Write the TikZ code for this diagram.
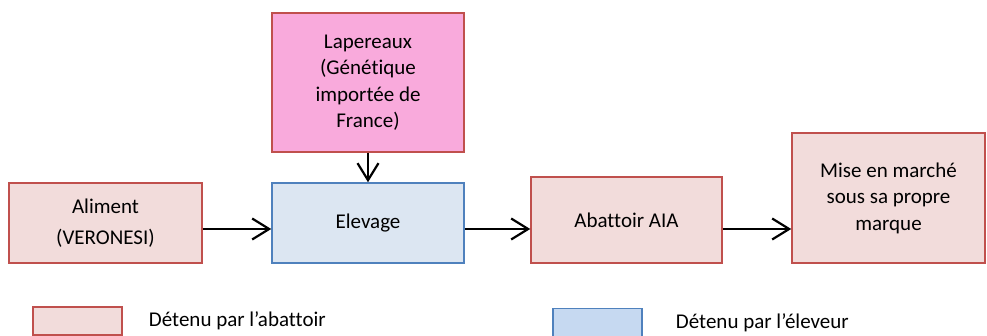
\documentclass[tikz,border=0pt]{standalone}
\usepackage{fontspec}
\setmainfont{Carlito}[Ligatures=NoCommon]
\usetikzlibrary{arrows.meta,positioning}

\definecolor{abatred}{RGB}{192,80,77}
\definecolor{abatfill}{RGB}{242,220,219}
\definecolor{lapfill}{RGB}{249,170,220}
\definecolor{elevblue}{RGB}{79,129,189}
\definecolor{elevfill}{RGB}{220,230,242}
\definecolor{legfill}{RGB}{198,217,241}

\tikzset{
  box/.style={draw=abatred, fill=abatfill, line width=1.5pt, align=center,
    font=\fontsize{21}{26.5}\selectfont, inner sep=0pt},
  elevbox/.style={box, draw=elevblue, fill=elevfill},
  flow/.style={line width=2.2pt, -{Straight Barb[length=17pt,width=21pt,line width=2.2pt]}},
  legtext/.style={inner sep=0pt, anchor=west, font=\fontsize{21}{26.5}\selectfont}
}

\begin{document}
\begin{tikzpicture}[x=1pt,y=-1pt]
  \useasboundingbox (0,0) rectangle (987,336);

  % Define the boxes of the chain
  \node[box, fill=lapfill, minimum width=192pt, minimum height=139pt] (lap) at (368,82.5)
    {Lapereaux\\(Génétique\\importée de\\France)};
  \node[elevbox, minimum width=192pt, minimum height=80pt] (elev) at (368,223) {Elevage};
  \node[box, minimum width=193pt, minimum height=80pt] (alim) at (105.5,223)
    {Aliment\\[5pt](VERONESI)};
  \node[box, minimum width=191pt, minimum height=86pt] (abat) at (626.5,220) {Abattoir AIA};
  \node[box, minimum width=193pt, minimum height=130pt] (mise) at (888.5,198)
    {Mise en marché\\sous sa propre\\marque};

  % Level of the horizontal arrows
  \coordinate (flowline) at (0,229);

  % Draw the arrows
  \draw[flow] (lap) -- (elev);
  \foreach \a/\b in {alim/elev, elev/abat, abat/mise} {
    \draw[flow] (\a.east |- flowline) -- (\b.west |- flowline);
  }

  % Draw the legend
  \node[box, minimum width=89pt, minimum height=28pt] (legA) at (77.5,321) {};
  \node[legtext, right=26pt of legA] (legAtext) {Détenu par l’abattoir};
  \node[elevbox, fill=legfill, minimum width=89pt, minimum height=28pt] (legE) at (597.5,322.5) {};
  \node[legtext, right=33pt of legE] (legEtext) {Détenu par l’éleveur};

\end{tikzpicture}
\end{document}
